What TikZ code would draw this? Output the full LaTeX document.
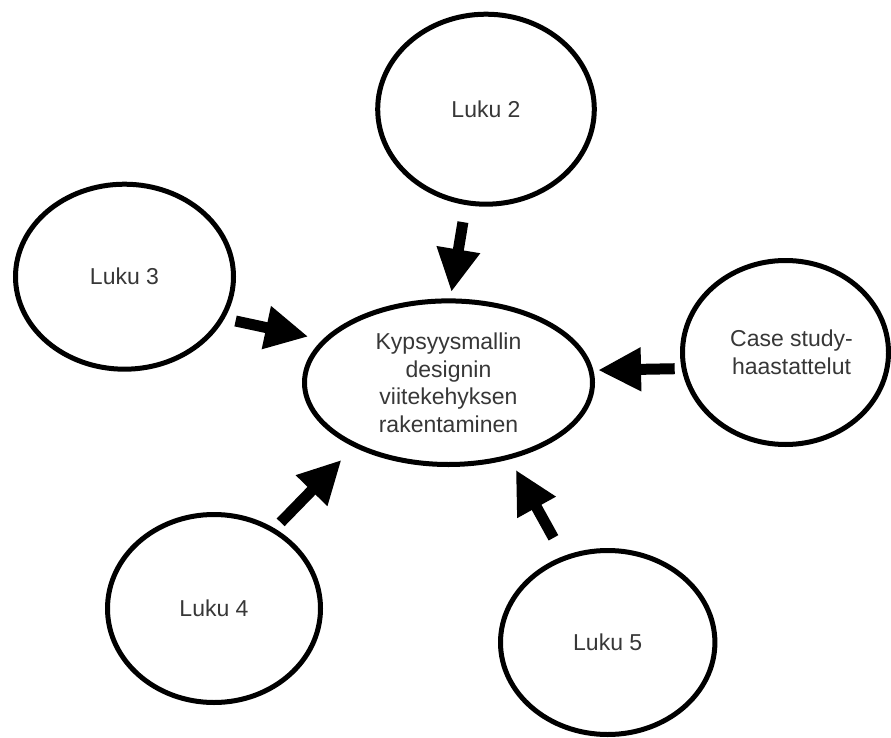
\documentclass[tikz,border=0pt]{standalone}
\usepackage{fontspec}
\setmainfont{Liberation Sans}
\usetikzlibrary{shapes.geometric,arrows.meta}
\definecolor{txt}{RGB}{55,55,55}
\begin{document}
\begin{tikzpicture}[x=1pt,y=-1pt,
  bubble/.style={ellipse, draw=black, line width=5pt, fill=white,
    inner sep=0pt, outer sep=0pt, align=center, text=txt,
    font=\fontsize{23}{27.5}\selectfont},
  bigarrow/.style={line width=11pt, draw=black,
    -{Triangle[length=43pt,width=41pt]}}]
\useasboundingbox[fill=white] (0,0) rectangle (891,738);

% chapters and interviews around the central task
\node[bubble, minimum width=216.6pt, minimum height=190pt] (l2) at (486,109.2) {Luku 2};
\node[bubble, minimum width=218pt, minimum height=185pt] (l3) at (124.5,276.7) {Luku 3};
\node[bubble, minimum width=288pt, minimum height=163.6pt] (c) at (448.5,382.7)
  {Kypsyysmallin\\designin\\viitekehyksen\\rakentaminen};
\node[bubble, minimum width=206pt, minimum height=184pt] (cs) at (785.5,352.5)
  {\hspace*{12pt}Case study-\\\hspace*{12pt}haastattelut};
\node[bubble, minimum width=213pt, minimum height=188pt] (l4) at (214,608.5) {Luku 4};
\node[bubble, minimum width=214.4pt, minimum height=184pt] (l5) at (607.7,642.5) {Luku 5};

% inputs pointing to the central ellipse
\draw[bigarrow, shorten <=19.8pt, shorten >=9pt] (l2.-102.6) -- (c.89.2);
\draw[bigarrow, shorten <=13.9pt, shorten >=17.4pt] (l3.-23.69) -- (c.161.1);
\draw[bigarrow, shorten <=9.4pt, shorten >=7.2pt] (cs.189.8) -- (c.5.1);
\draw[bigarrow, shorten <=11pt, shorten >=20.4pt] (l4.53.51) -- (c.214.3);
\draw[bigarrow, shorten <=23.3pt, shorten >=14.6pt] (l5.117.2) -- (c.-51.45);
\end{tikzpicture}
\end{document}
